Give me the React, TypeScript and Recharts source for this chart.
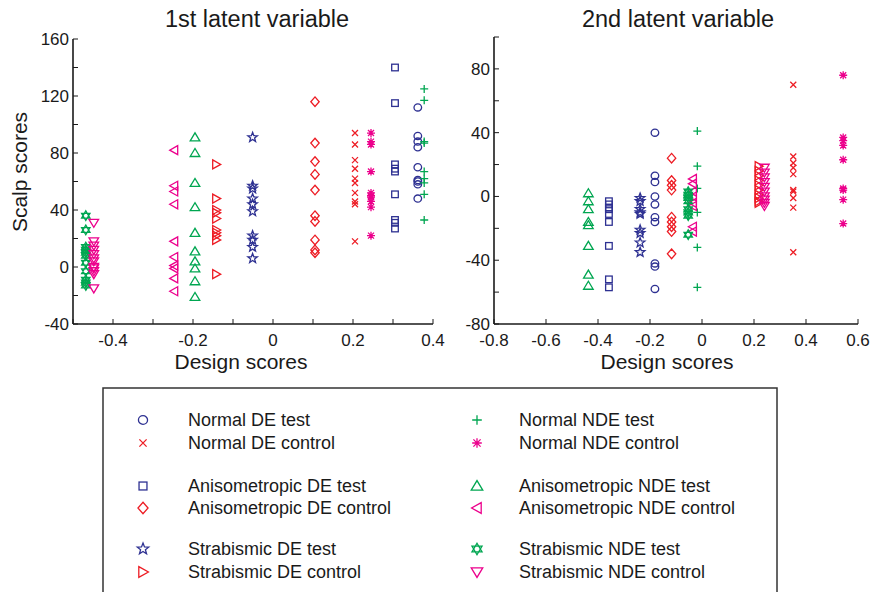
/**
 * Latent variable scatter plots: scalp scores vs design scores for the
 * 1st and 2nd latent variable, with a shared legend box underneath.
 */

import { Scatter, ScatterChart, XAxis, YAxis } from "recharts";

const FONT = '"Liberation Sans", Arial, Helvetica, sans-serif';
const INK = "#1a1a1a";
const BLUE = "#2e3192";
const RED = "#ed1c24";
const GREEN = "#00a651";
const MAGENTA = "#ec008c";

// ---- tick values ----
const L_X_TICKS = [-0.5, -0.4, -0.3, -0.2, -0.1, 0, 0.1, 0.2, 0.3, 0.4];
const L_Y_TICKS = [-40, -20, 0, 20, 40, 60, 80, 100, 120, 140, 160];
const R_X_TICKS = [-0.8, -0.6, -0.4, -0.2, 0, 0.2, 0.4, 0.6];
const R_Y_TICKS = [-80, -60, -40, -20, 0, 20, 40, 60, 80, 100];

// ---- 1st latent variable (x = design score column, y = scalp scores) ----
const L_NORMAL_DE_TEST = { x: 0.362, y: [112, 92, 88, 84, 70, 61, 60, 58, 48] };
const L_NORMAL_DE_CONTROL = { x: 0.205, y: [94, 86, 75, 69, 62, 59, 52, 46, 44, 18] };
const L_ANISO_DE_TEST = { x: 0.305, y: [140, 115, 72, 69, 67, 51, 33, 31, 27] };
const L_ANISO_DE_CONTROL = { x: 0.105, y: [116, 87, 74, 65, 54, 36, 32, 19, 12, 10] };
const L_STRAB_DE_TEST = { x: -0.051, y: [91, 57, 55, 48, 44, 39, 22, 19, 14, 6] };
const L_STRAB_DE_CONTROL = { x: -0.142, y: [72, 48, 40, 38, 34, 26, 24, 22, 19, -5] };
const L_NORMAL_NDE_TEST = { x: 0.378, y: [125, 117, 88, 87, 67, 62, 59, 51, 33] };
const L_NORMAL_NDE_CONTROL = { x: 0.245, y: [94, 88, 86, 67, 52, 50, 49, 46, 42, 22] };
const L_ANISO_NDE_TEST = { x: -0.195, y: [91, 80, 59, 42, 24, 11, 4, -1, -10, -21] };
const L_ANISO_NDE_CONTROL = { x: -0.247, y: [82, 57, 53, 44, 18, 7, 1, -1, -8, -17] };
const L_STRAB_NDE_TEST = { x: -0.468, y: [36, 26, 14, 12, 10, 8, 3, -3, -9, -11, -13] };
const L_STRAB_NDE_CONTROL = { x: -0.448, y: [31, 18, 15, 12, 9, 6, 4, 0, -1, -3, -5, -15] };

// ---- 2nd latent variable ----
const R_NORMAL_DE_TEST = { x: -0.181, y: [40, 13, 9, 0, -5, -13, -16, -42, -44, -58] };
const R_NORMAL_DE_CONTROL = { x: 0.351, y: [70, 25, 21, 18, 14, 4, 3, -1, -7, -35] };
const R_ANISO_DE_TEST = { x: -0.358, y: [-3, -5, -7, -8, -11, -16, -31, -52, -57] };
const R_ANISO_DE_CONTROL = { x: -0.117, y: [24, 10, 7, 4, -13, -16, -19, -22, -36] };
const R_STRAB_DE_TEST = { x: -0.238, y: [-1, -3, -8, -10, -11, -21, -23, -29, -35] };
const R_STRAB_DE_CONTROL = { x: 0.218, y: [19, 16, 13, 10, 7, 4, 1, -1, -3, -4] };
const R_NORMAL_NDE_TEST = { x: -0.018, y: [41, 19, 5, -10, -32, -57] };
const R_NORMAL_NDE_CONTROL = { x: 0.543, y: [76, 37, 35, 32, 23, 5, 4, -2, -17] };
const R_ANISO_NDE_TEST = { x: -0.437, y: [2, -3, -8, -16, -18, -31, -49, -56] };
const R_ANISO_NDE_CONTROL = { x: -0.035, y: [11, 8, 3, 0, -4, -6, -19, -22] };
const R_STRAB_NDE_TEST = { x: -0.053, y: [3, 1, -1, -3, -8, -10, -12, -24] };
const R_STRAB_NDE_CONTROL = { x: 0.24, y: [18, 15, 12, 9, 6, 3, 0, -2, -4, -6] };

type Shape =
  | "circle"
  | "cross"
  | "square"
  | "diamond"
  | "star"
  | "triRight"
  | "plus"
  | "asterisk"
  | "triUp"
  | "triLeft"
  | "hexagram"
  | "triDown";

type Column = { x: number; y: number[] };

type Series = {
  label: string;
  shape: Shape;
  color: string;
  left: Column;
  right: Column;
};

// order: DE column of legend, then NDE column
const SERIES: Series[] = [
  { label: "Normal DE test", shape: "circle", color: BLUE, left: L_NORMAL_DE_TEST, right: R_NORMAL_DE_TEST },
  { label: "Normal DE control", shape: "cross", color: RED, left: L_NORMAL_DE_CONTROL, right: R_NORMAL_DE_CONTROL },
  { label: "Anisometropic DE test", shape: "square", color: BLUE, left: L_ANISO_DE_TEST, right: R_ANISO_DE_TEST },
  { label: "Anisometropic DE control", shape: "diamond", color: RED, left: L_ANISO_DE_CONTROL, right: R_ANISO_DE_CONTROL },
  { label: "Strabismic DE test", shape: "star", color: BLUE, left: L_STRAB_DE_TEST, right: R_STRAB_DE_TEST },
  { label: "Strabismic DE control", shape: "triRight", color: RED, left: L_STRAB_DE_CONTROL, right: R_STRAB_DE_CONTROL },
  { label: "Normal NDE test", shape: "plus", color: GREEN, left: L_NORMAL_NDE_TEST, right: R_NORMAL_NDE_TEST },
  { label: "Normal NDE control", shape: "asterisk", color: MAGENTA, left: L_NORMAL_NDE_CONTROL, right: R_NORMAL_NDE_CONTROL },
  { label: "Anisometropic NDE test", shape: "triUp", color: GREEN, left: L_ANISO_NDE_TEST, right: R_ANISO_NDE_TEST },
  { label: "Anisometropic NDE control", shape: "triLeft", color: MAGENTA, left: L_ANISO_NDE_CONTROL, right: R_ANISO_NDE_CONTROL },
  { label: "Strabismic NDE test", shape: "hexagram", color: GREEN, left: L_STRAB_NDE_TEST, right: R_STRAB_NDE_TEST },
  { label: "Strabismic NDE control", shape: "triDown", color: MAGENTA, left: L_STRAB_NDE_CONTROL, right: R_STRAB_NDE_CONTROL },
];

// 5-point star outline
const STAR_PATH = (() => {
  const pts: string[] = [];
  for (let i = 0; i < 10; i++) {
    const r = i % 2 === 0 ? 5 : 2.1;
    const a = -Math.PI / 2 + (i * Math.PI) / 5;
    pts.push(`${(r * Math.cos(a)).toFixed(2)},${(r * Math.sin(a)).toFixed(2)}`);
  }
  return "M" + pts.join("L") + "Z";
})();

function Marker({
  shape,
  color,
  cx,
  cy,
  scale = 1,
}: {
  shape: Shape;
  color: string;
  cx: number;
  cy: number;
  scale?: number;
}) {
  if (cx == null || cy == null) return null;
  const p = { fill: "none", stroke: color, strokeWidth: 1.3 / scale };
  let el;
  switch (shape) {
    case "circle":
      el = <ellipse rx={3.8} ry={3.6} {...p} />;
      break;
    case "cross":
      el = <path d="M-3,-3L3,3M-3,3L3,-3" {...p} />;
      break;
    case "square":
      el = <rect x={-3.3} y={-3.3} width={6.6} height={6.6} {...p} />;
      break;
    case "diamond":
      el = <path d="M0,-4.8L4.2,0L0,4.8L-4.2,0Z" {...p} />;
      break;
    case "star":
      el = <path d={STAR_PATH} {...p} />;
      break;
    case "triRight":
      el = <path d="M-3.5,-4.5L4.5,0L-3.5,4.5Z" {...p} />;
      break;
    case "plus":
      el = <path d="M-4,0L4,0M0,-4L0,4" {...p} />;
      break;
    case "asterisk":
      el = <path d="M-4,0L4,0M0,-4L0,4M-3,-3L3,3M-3,3L3,-3" {...p} />;
      break;
    case "triUp":
      el = <path d="M-4.8,3.5L0,-4.5L4.8,3.5Z" {...p} />;
      break;
    case "triLeft":
      el = <path d="M3.5,-4.5L-4.5,0L3.5,4.5Z" {...p} />;
      break;
    case "hexagram":
      el = <path d="M0,-4.8L4.2,2.4L-4.2,2.4ZM0,4.8L4.2,-2.4L-4.2,-2.4Z" {...p} />;
      break;
    case "triDown":
      el = <path d="M-4.8,-3.5L0,4.5L4.8,-3.5Z" {...p} />;
      break;
  }
  return <g transform={`translate(${cx},${cy}) scale(${scale})`}>{el}</g>;
}

const frameLine = { stroke: INK, strokeWidth: 1.6 };
const tickLine = { stroke: INK, strokeWidth: 1 };
const tickText = { fontSize: 17, fill: INK, fontFamily: FONT };

const decimalLabel = (v: number) => String(Math.round(v * 10) / 10);

type PanelProps = {
  side: "left" | "right";
  width: number;
  margin: { top: number; right: number; bottom: number; left: number };
  xDomain: [number, number];
  yDomain: [number, number];
  xTicks: number[];
  yTicks: number[];
  xFormat: (v: number) => string;
  yFormat: (v: number) => string;
};

function Panel({ side, width, margin, xDomain, yDomain, xTicks, yTicks, xFormat, yFormat }: PanelProps) {
  return (
    <ScatterChart width={width} height={390} margin={margin}>
      <XAxis
        type="number"
        dataKey="x"
        domain={xDomain}
        ticks={xTicks}
        interval={0}
        allowDataOverflow
        height={30}
        tickSize={-5}
        tickMargin={15}
        axisLine={frameLine}
        tickLine={tickLine}
        tick={tickText}
        tickFormatter={xFormat}
      />
      <XAxis
        xAxisId="top"
        orientation="top"
        type="number"
        domain={xDomain}
        ticks={xTicks}
        interval={0}
        allowDataOverflow
        height={0}
        tickSize={-5}
        axisLine={frameLine}
        tickLine={tickLine}
        tick={false}
      />
      <YAxis
        type="number"
        dataKey="y"
        domain={yDomain}
        ticks={yTicks}
        interval={0}
        allowDataOverflow
        width={40}
        tickSize={-5}
        tickMargin={9}
        axisLine={frameLine}
        tickLine={tickLine}
        tick={tickText}
        tickFormatter={yFormat}
      />
      <YAxis
        yAxisId="right"
        orientation="right"
        type="number"
        domain={yDomain}
        ticks={yTicks}
        interval={0}
        allowDataOverflow
        width={0}
        tickSize={-5}
        axisLine={frameLine}
        tickLine={tickLine}
        tick={false}
      />
      {SERIES.map((s) => {
        const col = s[side];
        const pts = col.y.map((y) => ({ x: col.x, y }));
        return (
          <Scatter
            key={s.label}
            name={s.label}
            data={pts}
            isAnimationActive={false}
            shape={(props: any) => (
              <Marker shape={s.shape} color={s.color} cx={props.cx} cy={props.cy} />
            )}
          />
        );
      })}
    </ScatterChart>
  );
}

const LEGEND_ROWS = [420, 443, 486, 508, 549, 572];

export default function App() {
  return (
    <div
      style={{
        position: "absolute",
        left: 0,
        top: 0,
        width: 871,
        height: 592,
        overflow: "hidden",
        background: "#fff",
        fontFamily: FONT,
      }}
    >
      <div style={{ position: "absolute", left: 0, top: 0 }}>
        <Panel
          side="left"
          width={450}
          margin={{ top: 39, right: 17, bottom: 36, left: 33 }}
          xDomain={[-0.5, 0.4]}
          yDomain={[-40, 160]}
          xTicks={L_X_TICKS}
          yTicks={L_Y_TICKS}
          xFormat={(v) => (Math.round(v * 10) % 2 === 0 ? decimalLabel(v) : "")}
          yFormat={(v) => (v % 40 === 0 ? String(v) : "")}
        />
      </div>
      <div style={{ position: "absolute", left: 450, top: 0 }}>
        <Panel
          side="right"
          width={421}
          margin={{ top: 37, right: 13, bottom: 36, left: 4 }}
          xDomain={[-0.8, 0.6]}
          yDomain={[-80, 100]}
          xTicks={R_X_TICKS}
          yTicks={R_Y_TICKS}
          xFormat={decimalLabel}
          yFormat={(v) => (v % 40 === 0 ? String(v) : "")}
        />
      </div>

      <svg
        width={871}
        height={592}
        style={{ position: "absolute", left: 0, top: 0, pointerEvents: "none" }}
        fontFamily={FONT}
        fill={INK}
      >
        <text x={257} y={27} fontSize={23.5} textAnchor="middle">
          1st latent variable
        </text>
        <text x={678} y={27} fontSize={23.5} textAnchor="middle">
          2nd latent variable
        </text>
        <text x={27} y={172} fontSize={21} textAnchor="middle" transform="rotate(-90 27 172)">
          Scalp scores
        </text>
        <text x={241} y={369} fontSize={21} textAnchor="middle">
          Design scores
        </text>
        <text x={667} y={369} fontSize={21} textAnchor="middle">
          Design scores
        </text>

        <rect x={103} y={388} width={674} height={240} fill="none" stroke="#333" strokeWidth={1.5} />
        {SERIES.map((s, i) => {
          const col = i < 6 ? 0 : 1;
          const cy = LEGEND_ROWS[i % 6];
          const mx = col === 0 ? 143 : 477;
          const tx = col === 0 ? 188 : 519;
          return (
            <g key={s.label}>
              <Marker shape={s.shape} color={s.color} cx={mx} cy={cy} scale={1.2} />
              <text x={tx} y={cy + 6} fontSize={18}>
                {s.label}
              </text>
            </g>
          );
        })}
      </svg>
    </div>
  );
}
